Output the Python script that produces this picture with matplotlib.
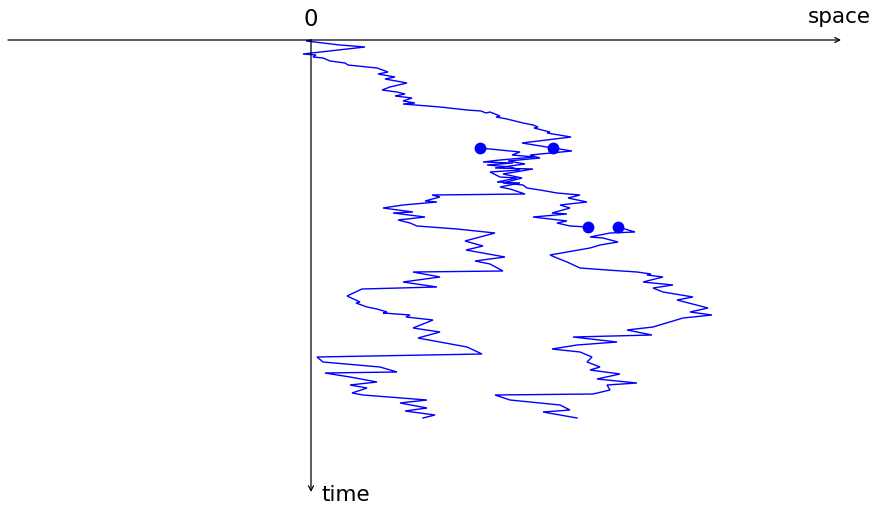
import matplotlib
matplotlib.use("Agg")
import matplotlib.pyplot as plt

# Branching particle paths: space offset (x) against time (t), arbitrary units
root_x = [0, -5, 12, 29, 54, -8, 5, 2, 12, 19, 34, 37, 66, 77, 67, 84, 74, 96, 79, 71,
          86, 94, 84, 101, 92, 104, 92, 129, 156, 170, 175, 179, 189, 185, 196, 212, 222,
          227, 223, 239, 236, 260, 211, 242]
root_t = [0, 1, 3, 5, 7, 14, 15, 17, 18, 21, 23, 25, 28, 32, 34, 37, 39, 43, 47, 50,
          52, 54, 56, 58, 61, 63, 64, 67, 70, 71, 73, 72, 76, 77, 79, 83, 85,
          87, 88, 92, 93, 97, 103, 108]

left_x = [169, 209, 201, 224, 189, 172, 202, 176, 199, 209, 179, 189, 206, 186, 209, 189,
          199, 214, 121, 129, 114, 126, 92, 72, 102, 82, 114, 87, 99, 106, 146, 184,
          154, 172, 155, 194, 164, 179, 192, 102, 129, 92, 126, 51, 36, 49, 45, 56, 66,
          76, 72, 99, 95, 122, 102, 129, 107, 156, 171, 6, 12, 69, 86, 14, 39, 66,
          39, 56, 41, 52, 116, 89, 116, 94, 124, 112]
left_t = [108, 112, 115, 117, 120, 122, 123, 125, 127, 130, 132, 137, 138, 142, 143, 147,
          149, 154, 155, 157, 161, 162, 165, 168, 172, 173, 177, 180, 183, 186, 189, 193,
          201, 206, 210, 217, 221, 224, 231, 232, 237, 242, 247, 249, 256, 262, 263, 267, 269,
          272, 273, 275, 277, 280, 288, 292, 298, 307, 314, 317, 322, 327, 332, 333, 337, 342,
          345, 348, 353, 355, 360, 363, 368, 371, 375, 378]

mid_x = [242, 261, 219, 229, 197, 214, 184, 222, 192, 211, 192, 212, 216, 229, 246, 269,
         257, 276, 249, 259, 241, 256, 222, 256, 246, 259, 277]
mid_t = [108, 111, 115, 118, 121, 124, 128, 129, 134, 138, 143, 145, 148, 150, 153, 155,
         158, 162, 165, 168, 173, 174, 177, 181, 183, 186, 187]

right_x = [307, 324, 299, 279, 292, 307, 289, 279, 239, 246, 256, 269, 296, 326, 340, 336,
           352, 332, 362, 342, 352, 382, 366, 397, 379, 401, 372, 342, 316, 341, 262, 306,
           266, 241, 269, 281, 276, 289, 279, 309, 286, 326, 296, 299, 282, 184, 199, 249,
           259, 232, 266]
right_t = [187, 192, 193, 197, 198, 202, 205, 208, 215, 218, 222, 228, 230, 232, 234, 235,
           237, 242, 245, 248, 252, 257, 260, 268, 272, 275, 278, 287, 290, 295, 297, 302,
           305, 309, 312, 317, 322, 327, 330, 334, 339, 343, 345, 350, 354, 355, 360, 365,
           370, 372, 378]

# Branching events (space position, time)
event_x = [169, 242, 277, 307]
event_t = [108, 108, 187, 187]

BLUE = "#0000ff"

fig = plt.figure(figsize=(8.76, 5.05), dpi=100)
ax = fig.add_axes([0, 0, 1, 1])
ax.set_xlim(-311, 565)
ax.set_ylim(465, -40)
ax.axis("off")

# axes with arrow heads
arrow = dict(arrowstyle="->,head_length=0.35,head_width=0.18", lw=0.9, color="black",
             shrinkA=0, shrinkB=0)
ax.annotate("", xy=(530, 0), xytext=(-303, 0), arrowprops=arrow)
ax.annotate("", xy=(0, 452), xytext=(0, 0), arrowprops=arrow)

for xs, ts in [(root_x, root_t), (left_x, left_t), (mid_x, mid_t), (right_x, right_t)]:
    ax.plot(xs, ts, color=BLUE, lw=1.0, solid_joinstyle="miter")

ax.plot(event_x, event_t, "o", color=BLUE, ms=8.5, mec="none")

ax.text(0, -21, "0", ha="center", va="center", fontsize=16.5)
ax.text(528, -23, "space", ha="center", va="center", fontsize=15.5)
ax.text(10, 455, "time", ha="left", va="center", fontsize=15.5)

fig.savefig("out.png", dpi=100)
